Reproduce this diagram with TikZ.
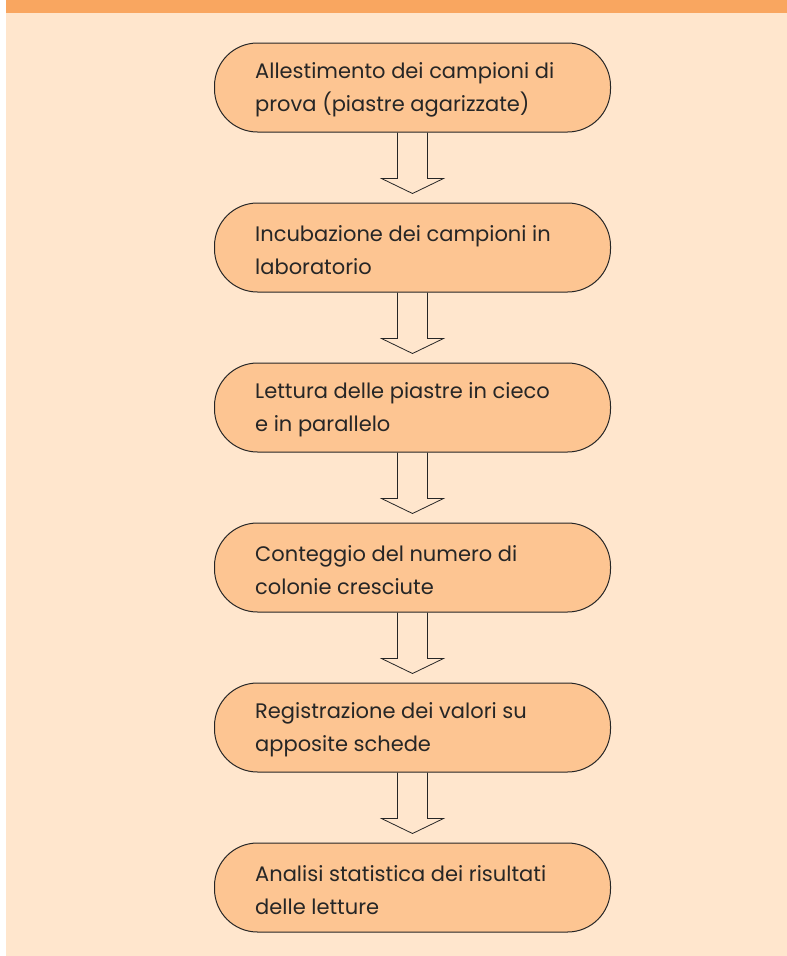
\documentclass[tikz,border=0pt]{standalone}
\usepackage{fontspec}
\setmainfont{Poppins}
\definecolor{band}{HTML}{F9A660}
\definecolor{bgpeach}{HTML}{FFE6CD}
\definecolor{boxfill}{HTML}{FDC592}
\definecolor{ink}{HTML}{262626}
\tikzset{
  stepbox/.style={draw=ink, line width=1pt, fill=boxfill, rounded corners=43pt,
    minimum width=396pt, minimum height=89pt, inner sep=0pt},
  steptext/.style={anchor=west, align=left, font=\fontsize{21}{33}\selectfont, text=ink, inner sep=0pt},
  hollow/.style={draw=ink, line width=0.8pt, line join=miter}
}
\begin{document}
\begin{tikzpicture}[x=1pt,y=-1pt]
\useasboundingbox (0,0) rectangle (787,956);
\fill[bgpeach] (6,0) rectangle (787,956);
\fill[band] (6,0) rectangle (787,13);
\foreach \name/\top/\txt in {
  b1/43/{Allestimento dei campioni di\\prova (piastre agarizzate)},
  b2/203/{Incubazione dei campioni in\\laboratorio},
  b3/363/{Lettura delle piastre in cieco\\e in parallelo},
  b4/523/{Conteggio del numero di\\colonie cresciute},
  b5/683/{Registrazione dei valori su\\apposite schede},
  b6/843/{Analisi statistica dei risultati\\delle letture}}{
  \node[stepbox] (\name) at (412.5,\top+44.5) {};
  \node[steptext] (\name t) at (255,\top+47) {\txt};
}
\foreach \a/\b in {b1/b2,b2/b3,b3/b4,b4/b5,b5/b6}{
  \coordinate (sl) at ([xshift=-15pt]\a.south);
  \coordinate (sr) at ([xshift=15pt]\a.south);
  \draw[hollow] (sl) -- ++(0,46) -- ++(-16,0) -- ++(31,15) -- ++(31,-15) -- ++(-16,0) -- (sr);
}
\end{tikzpicture}
\end{document}
